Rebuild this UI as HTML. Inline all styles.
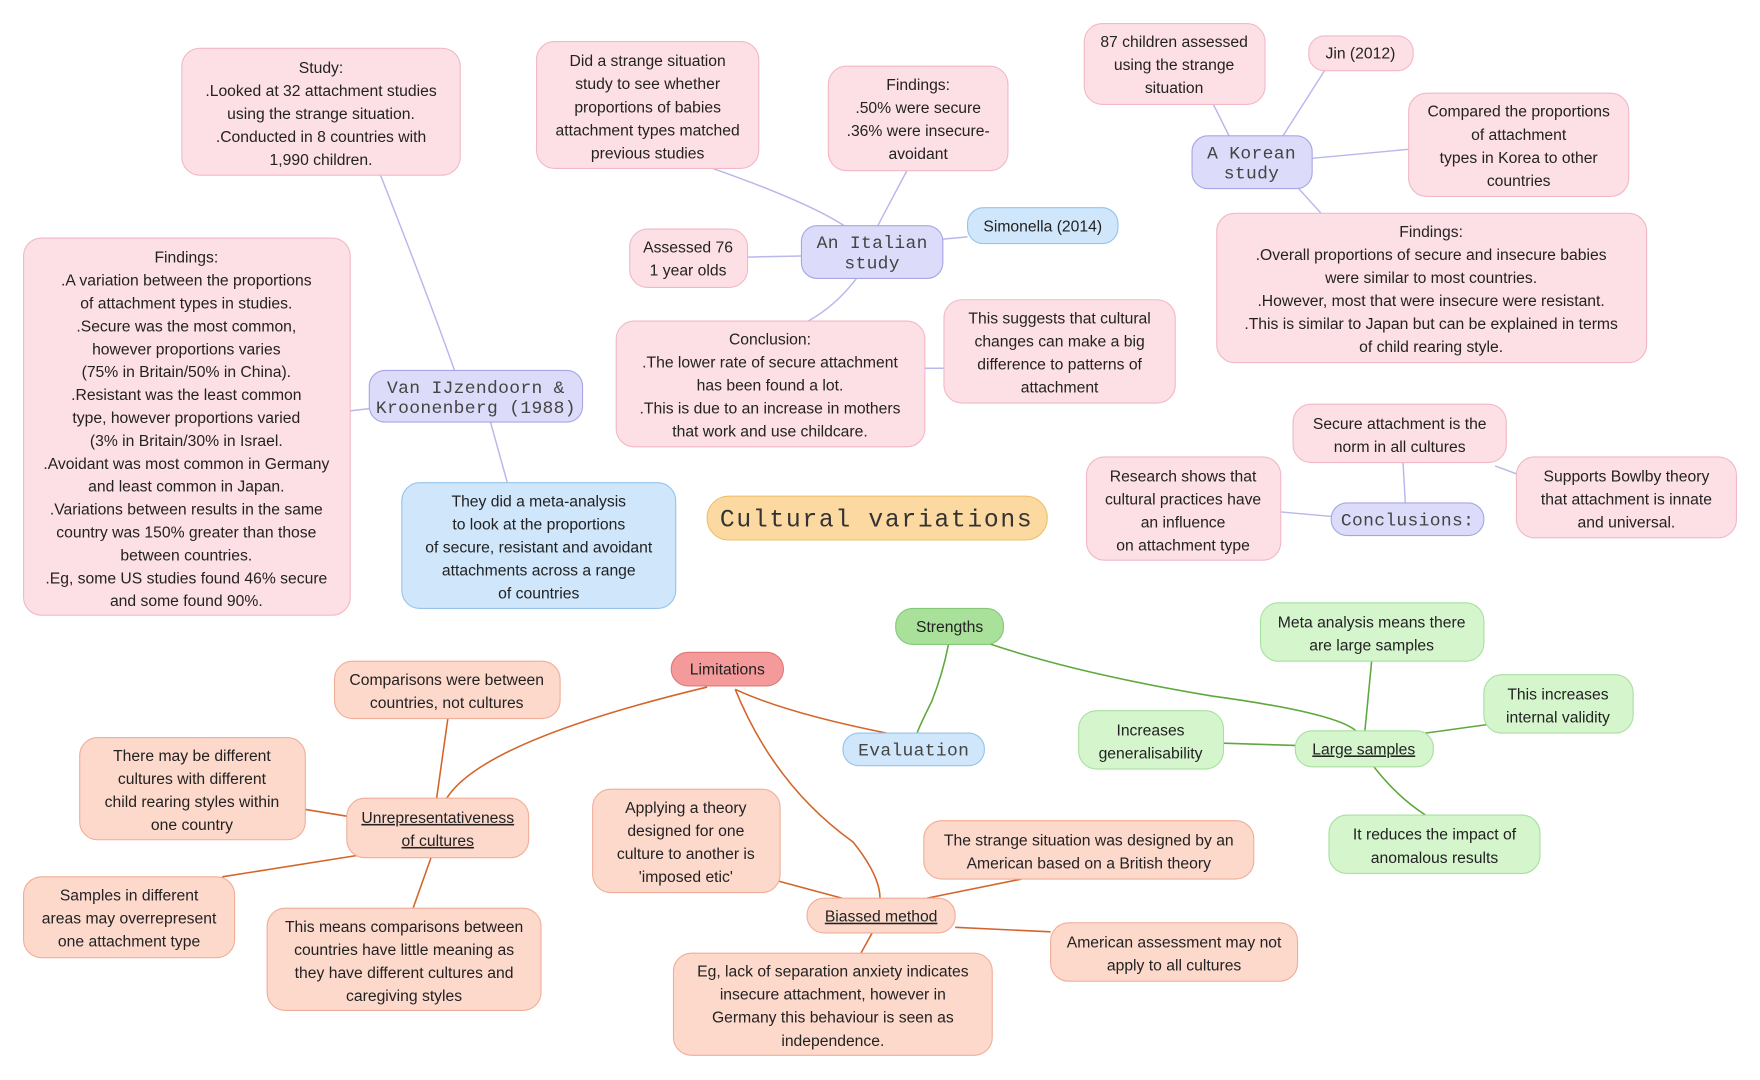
<!DOCTYPE html>
<html><head><meta charset="utf-8"><style>
html,body{margin:0;padding:0;background:#fff;width:1760px;height:1080px;overflow:hidden}
svg{display:block}
text{font-family:"Liberation Sans",sans-serif;font-size:14px;fill:#222;text-anchor:middle}
.m{font-family:"Liberation Mono",monospace;font-size:16px;fill:#444;letter-spacing:0.3px}
.pk{fill:#fde0e6;stroke:#f2b8c6;stroke-width:1}
.lv{fill:#dcdcfa;stroke:#a6a6e6;stroke-width:1}
.bl{fill:#cfe6fb;stroke:#96c4ec;stroke-width:1}
.or{fill:#fbd9a0;stroke:#eebf6e;stroke-width:1}
.gr{fill:#a9e09a;stroke:#86c878;stroke-width:1}
.lg{fill:#d5f5cd;stroke:#a8e0a0;stroke-width:1}
.rd{fill:#f49a9a;stroke:#e07878;stroke-width:1}
.pc{fill:#fdd9cc;stroke:#f0ae98;stroke-width:1}
.el{fill:none;stroke:#b8b8ec;stroke-width:1.3}
.eo{fill:none;stroke:#d4652a;stroke-width:1.4}
.eg{fill:none;stroke:#5fa83e;stroke-width:1.4}
.u{text-decoration:underline}
</style></head><body>
<svg width="1760" height="1080" viewBox="0 0 1568 962" preserveAspectRatio="none" xmlns="http://www.w3.org/2000/svg">
<path class="el" d="M339,156 Q380,260 405,330"/>
<path class="el" d="M312,366 L329,364"/>
<path class="el" d="M437,376 L452,430"/>
<path class="el" d="M635,150 Q720,180 752,201"/>
<path class="el" d="M808,152 L782,201"/>
<path class="el" d="M666,229 L714,228"/>
<path class="el" d="M840,213 L862,211"/>
<path class="el" d="M763,248 Q745,272 720,286"/>
<path class="el" d="M824,328 L841,328"/>
<path class="el" d="M1081,93 L1095,121"/>
<path class="el" d="M1180,63 L1143,121"/>
<path class="el" d="M1169,141 L1255,133"/>
<path class="el" d="M1157,168 L1177,190"/>
<path class="el" d="M1250,412 L1252,448"/>
<path class="el" d="M1141,456 L1186,460"/>
<path class="el" d="M1332,415 L1351,422"/>
<path class="eg" d="M845,574 Q840,600 830,625 Q820,645 817,653"/>
<path class="eg" d="M880,573 Q960,600 1080,620 Q1190,635 1208,651"/>
<path class="eg" d="M1222,589 L1216,651"/>
<path class="eg" d="M1270,653 L1328,645"/>
<path class="eg" d="M1090,662 L1154,664"/>
<path class="eg" d="M1224,683 Q1245,710 1270,726"/>
<path class="eo" d="M655,614 Q700,635 790,653"/>
<path class="eo" d="M630,612 Q430,660 398,711"/>
<path class="eo" d="M655,614 Q690,700 760,750 Q784,780 784,800"/>
<path class="eo" d="M399,640 L389,711"/>
<path class="eo" d="M272,721 L309,727"/>
<path class="eo" d="M198,781 L318,762"/>
<path class="eo" d="M384,764 L368,809"/>
<path class="eo" d="M694,785 L750,800"/>
<path class="eo" d="M910,783 L826,800"/>
<path class="eo" d="M851,826 L936,830"/>
<path class="eo" d="M777,831 L767,849"/>

<rect class="pk" x="162" y="43" width="248" height="113" rx="16"/>
<text x="286" y="65"><tspan x="286">Study:</tspan><tspan x="286" dy="20.5">.Looked at 32 attachment studies</tspan><tspan x="286" dy="20.5">using the strange situation.</tspan><tspan x="286" dy="20.5">.Conducted in 8 countries with</tspan><tspan x="286" dy="20.5">1,990 children.</tspan></text>

<rect class="pk" x="478" y="37" width="198" height="113" rx="16"/>
<text y="59"><tspan x="577">Did a strange situation</tspan><tspan x="577" dy="20.5">study to see whether</tspan><tspan x="577" dy="20.5">proportions of babies</tspan><tspan x="577" dy="20.5">attachment types matched</tspan><tspan x="577" dy="20.5">previous studies</tspan></text>

<rect class="pk" x="738" y="59" width="160" height="93" rx="16"/>
<text y="80"><tspan x="818">Findings:</tspan><tspan x="818" dy="20.5">.50% were secure</tspan><tspan x="818" dy="20.5">.36% were insecure-</tspan><tspan x="818" dy="20.5">avoidant</tspan></text>

<rect class="pk" x="561" y="204" width="105" height="52" rx="16"/>
<text y="225"><tspan x="613">Assessed 76</tspan><tspan x="613" dy="20.5">1 year olds</tspan></text>

<rect class="lv" x="714" y="201" width="126" height="47" rx="14"/>
<text class="m" y="221"><tspan x="777">An Italian</tspan><tspan x="777" dy="18">study</tspan></text>

<rect class="bl" x="862" y="185" width="134" height="32" rx="14"/>
<text x="929" y="206">Simonella (2014)</text>

<rect class="pk" x="549" y="286" width="275" height="112" rx="16"/>
<text y="307"><tspan x="686">Conclusion:</tspan><tspan x="686" dy="20.5">.The lower rate of secure attachment</tspan><tspan x="686" dy="20.5">has been found a lot.</tspan><tspan x="686" dy="20.5">.This is due to an increase in mothers</tspan><tspan x="686" dy="20.5">that work and use childcare.</tspan></text>

<rect class="pk" x="841" y="267" width="206" height="92" rx="16"/>
<text y="288"><tspan x="944">This suggests that cultural</tspan><tspan x="944" dy="20.5">changes can make a big</tspan><tspan x="944" dy="20.5">difference to patterns of</tspan><tspan x="944" dy="20.5">attachment</tspan></text>

<rect class="pk" x="966" y="21" width="161" height="72" rx="16"/>
<text y="42"><tspan x="1046">87 children assessed</tspan><tspan x="1046" dy="20.5">using the strange</tspan><tspan x="1046" dy="20.5">situation</tspan></text>

<rect class="pk" x="1166" y="32" width="93" height="31" rx="14"/>
<text x="1212" y="52">Jin (2012)</text>

<rect class="lv" x="1062" y="121" width="107" height="47" rx="14"/>
<text class="m" y="141"><tspan x="1115">A Korean</tspan><tspan x="1115" dy="18">study</tspan></text>

<rect class="pk" x="1255" y="83" width="196" height="92" rx="16"/>
<text y="104"><tspan x="1353">Compared the proportions</tspan><tspan x="1353" dy="20.5">of attachment</tspan><tspan x="1353" dy="20.5">types in Korea to other</tspan><tspan x="1353" dy="20.5">countries</tspan></text>

<rect class="pk" x="1084" y="190" width="383" height="133" rx="16"/>
<text y="211"><tspan x="1275">Findings:</tspan><tspan x="1275" dy="20.5">.Overall proportions of secure and insecure babies</tspan><tspan x="1275" dy="20.5">were similar to most countries.</tspan><tspan x="1275" dy="20.5">.However, most that were insecure were resistant.</tspan><tspan x="1275" dy="20.5">.This is similar to Japan but can be explained in terms</tspan><tspan x="1275" dy="20.5">of child rearing style.</tspan></text>

<rect class="pk" x="21" y="212" width="291" height="336" rx="16"/>
<text y="234"><tspan x="166">Findings:</tspan><tspan x="166" dy="20.4">.A variation between the proportions</tspan><tspan x="166" dy="20.4">of attachment types in studies.</tspan><tspan x="166" dy="20.4">.Secure was the most common,</tspan><tspan x="166" dy="20.4">however proportions varies</tspan><tspan x="166" dy="20.4">(75% in Britain/50% in China).</tspan><tspan x="166" dy="20.4">.Resistant was the least common</tspan><tspan x="166" dy="20.4">type, however proportions varied</tspan><tspan x="166" dy="20.4">(3% in Britain/30% in Israel.</tspan><tspan x="166" dy="20.4">.Avoidant was most common in Germany</tspan><tspan x="166" dy="20.4">and least common in Japan.</tspan><tspan x="166" dy="20.4">.Variations between results in the same</tspan><tspan x="166" dy="20.4">country was 150% greater than those</tspan><tspan x="166" dy="20.4">between countries.</tspan><tspan x="166" dy="20.4">.Eg, some US studies found 46% secure</tspan><tspan x="166" dy="20.4">and some found 90%.</tspan></text>

<rect class="lv" x="329" y="330" width="190" height="46" rx="14"/>
<text class="m" y="350"><tspan x="424">Van IJzendoorn &amp;</tspan><tspan x="424" dy="18">Kroonenberg (1988)</tspan></text>

<rect class="bl" x="358" y="430" width="244" height="112" rx="16"/>
<text y="451"><tspan x="480">They did a meta-analysis</tspan><tspan x="480" dy="20.5">to look at the proportions</tspan><tspan x="480" dy="20.5">of secure, resistant and avoidant</tspan><tspan x="480" dy="20.5">attachments across a range</tspan><tspan x="480" dy="20.5">of countries</tspan></text>

<rect class="or" x="630" y="442" width="303" height="39" rx="19"/>
<text class="m" x="781" y="469" style="font-size:22px;fill:#333;letter-spacing:1.5px">Cultural variations</text>

<rect class="pk" x="1152" y="360" width="190" height="52" rx="16"/>
<text y="382"><tspan x="1247">Secure attachment is the</tspan><tspan x="1247" dy="20.5">norm in all cultures</tspan></text>

<rect class="pk" x="968" y="407" width="173" height="92" rx="16"/>
<text y="429"><tspan x="1054">Research shows that</tspan><tspan x="1054" dy="20.5">cultural practices have</tspan><tspan x="1054" dy="20.5">an influence</tspan><tspan x="1054" dy="20.5">on attachment type</tspan></text>

<rect class="lv" x="1186" y="448" width="136" height="29" rx="14"/>
<text class="m" x="1254" y="468">Conclusions:</text>

<rect class="pk" x="1351" y="407" width="196" height="72" rx="16"/>
<text y="429"><tspan x="1449">Supports Bowlby theory</tspan><tspan x="1449" dy="20.5">that attachment is innate</tspan><tspan x="1449" dy="20.5">and universal.</tspan></text>

<rect class="gr" x="798" y="542" width="96" height="32" rx="15"/>
<text x="846" y="563">Strengths</text>

<rect class="lg" x="1123" y="537" width="199" height="52" rx="16"/>
<text y="559"><tspan x="1222">Meta analysis means there</tspan><tspan x="1222" dy="20.5">are large samples</tspan></text>

<rect class="lg" x="1322" y="601" width="133" height="52" rx="16"/>
<text y="623"><tspan x="1388">This increases</tspan><tspan x="1388" dy="20.5">internal validity</tspan></text>

<rect class="lg" x="961" y="633" width="129" height="52" rx="16"/>
<text y="655"><tspan x="1025">Increases</tspan><tspan x="1025" dy="20.5">generalisability</tspan></text>

<rect class="lg" x="1154" y="651" width="123" height="32" rx="15"/>
<text class="u" x="1215" y="672">Large samples</text>

<rect class="lg" x="1184" y="726" width="188" height="52" rx="16"/>
<text y="748"><tspan x="1278">It reduces the impact of</tspan><tspan x="1278" dy="20.5">anomalous results</tspan></text>

<rect class="bl" x="751" y="653" width="126" height="29" rx="14"/>
<text class="m" x="814" y="673">Evaluation</text>

<rect class="rd" x="598" y="581" width="100" height="30" rx="15"/>
<text x="648" y="601">Limitations</text>

<rect class="pc" x="298" y="589" width="201" height="51" rx="16"/>
<text y="610"><tspan x="398">Comparisons were between</tspan><tspan x="398" dy="20.5">countries, not cultures</tspan></text>

<rect class="pc" x="71" y="657" width="201" height="91" rx="16"/>
<text y="678"><tspan x="171">There may be different</tspan><tspan x="171" dy="20.5">cultures with different</tspan><tspan x="171" dy="20.5">child rearing styles within</tspan><tspan x="171" dy="20.5">one country</tspan></text>

<rect class="pc" x="309" y="711" width="162" height="53" rx="16"/>
<text class="u" y="733"><tspan x="390">Unrepresentativeness</tspan><tspan x="390" dy="20.5">of cultures</tspan></text>

<rect class="pc" x="21" y="781" width="188" height="72" rx="16"/>
<text y="802"><tspan x="115">Samples in different</tspan><tspan x="115" dy="20.5">areas may overrepresent</tspan><tspan x="115" dy="20.5">one attachment type</tspan></text>

<rect class="pc" x="238" y="809" width="244" height="91" rx="16"/>
<text y="830"><tspan x="360">This means comparisons between</tspan><tspan x="360" dy="20.5">countries have little meaning as</tspan><tspan x="360" dy="20.5">they have different cultures and</tspan><tspan x="360" dy="20.5">caregiving styles</tspan></text>

<rect class="pc" x="528" y="703" width="167" height="92" rx="16"/>
<text y="724"><tspan x="611">Applying a theory</tspan><tspan x="611" dy="20.5">designed for one</tspan><tspan x="611" dy="20.5">culture to another is</tspan><tspan x="611" dy="20.5">'imposed etic'</tspan></text>

<rect class="pc" x="719" y="800" width="132" height="31" rx="15"/>
<text class="u" x="785" y="821">Biassed method</text>

<rect class="pc" x="823" y="731" width="294" height="52" rx="16"/>
<text y="753"><tspan x="970">The strange situation was designed by an</tspan><tspan x="970" dy="20.5">American based on a British theory</tspan></text>

<rect class="pc" x="936" y="822" width="220" height="52" rx="16"/>
<text y="844"><tspan x="1046">American assessment may not</tspan><tspan x="1046" dy="20.5">apply to all cultures</tspan></text>

<rect class="pc" x="600" y="849" width="284" height="91" rx="16"/>
<text y="870"><tspan x="742">Eg, lack of separation anxiety indicates</tspan><tspan x="742" dy="20.5">insecure attachment, however in</tspan><tspan x="742" dy="20.5">Germany this behaviour is seen as</tspan><tspan x="742" dy="20.5">independence.</tspan></text>
</svg>
</body></html>
